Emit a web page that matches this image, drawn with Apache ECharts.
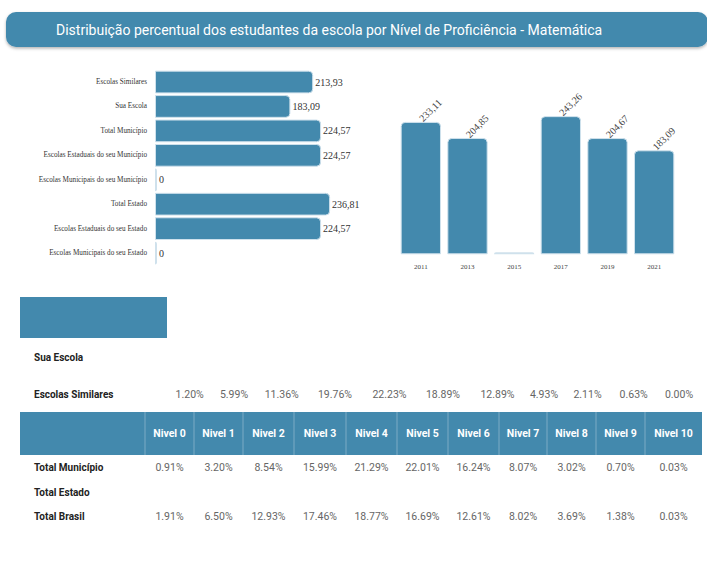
<!DOCTYPE html>
<html>
<head>
<meta charset="utf-8">
<script src="https://cdn.jsdelivr.net/npm/echarts@6/dist/echarts.min.js"></script>
<style>
html,body{margin:0;padding:0;background:#fff;}
#chart{width:707px;height:579px;}
</style>
</head>
<body>
<div id="chart"></div>
<script>
// ---------- DATA ----------
const titleText = 'Distribuição percentual dos estudantes da escola por Nível de Proficiência - Matemática';
const hbarCategories = ['Escolas Similares','Sua Escola','Total Município','Escolas Estaduais do seu Município','Escolas Municipais do seu Município','Total Estado','Escolas Estaduais do seu Estado','Escolas Municipais do seu Estado'];
const hbarValues = [213.93, 183.09, 224.57, 224.57, 0, 236.81, 224.57, 0];
const years = ['2011','2013','2015','2017','2019','2021'];
const yearValues = [233.11, 204.85, 0, 243.26, 204.67, 183.09];
const levels = ['Nivel 0','Nivel 1','Nivel 2','Nivel 3','Nivel 4','Nivel 5','Nivel 6','Nivel 7','Nivel 8','Nivel 9','Nivel 10'];
const topRows = ['Sua Escola','Escolas Similares'];
const suaEscolaValues = [];
const similaresValues = ['1.20%','5.99%','11.36%','19.76%','22.23%','18.89%','12.89%','4.93%','2.11%','0.63%','0.00%'];
const bottomRows = ['Total Município','Total Estado','Total Brasil'];
const municipioValues = ['0.91%','3.20%','8.54%','15.99%','21.29%','22.01%','16.24%','8.07%','3.02%','0.70%','0.03%'];
const estadoValues = [];
const brasilValues = ['1.91%','6.50%','12.93%','17.46%','18.77%','16.69%','12.61%','8.02%','3.69%','1.38%','0.03%'];

// ---------- STYLE / LAYOUT ----------
const blue = '#4389ad';
const light = '#cfe1ec';
const sans = 'Roboto, "Noto Sans", sans-serif';
const serif = '"Liberation Serif", "DejaVu Serif", serif';
const fmt = v => v === 0 ? '0' : v.toFixed(2).replace('.', ',');

const colEdges = [20,145,194,243,294,346,397,448,499,547,596,645,702];
const simCenters = [189.7,234,281.7,335,389.5,443,497.5,544,587.5,633.7,679];
const topRowY = [357, 394];
const bottomRowY = [467, 492, 516];

const graphic = [];
graphic.push({type:'rect', shape:{x:6,y:12,width:702,height:35,r:10},
  style:{fill:blue, shadowBlur:3, shadowOffsetY:1.5, shadowColor:'rgba(0,0,0,0.3)'}});
graphic.push({type:'text', x:56, y:30, style:{text:titleText, fill:'#fff', fontSize:14, fontFamily:sans, verticalAlign:'middle', align:'left'}});

// top section
graphic.push({type:'rect', shape:{x:20,y:297,width:147,height:41}, style:{fill:blue}});
const topVals = [suaEscolaValues, similaresValues];
topRows.forEach((r,i)=>{
  graphic.push({type:'text', x:34, y:topRowY[i], style:{text:r, fill:'#222', fontSize:10, fontWeight:'bold', fontFamily:sans, verticalAlign:'middle'}});
  topVals[i].forEach((v,j)=>{
    graphic.push({type:'text', x:simCenters[j], y:topRowY[i], style:{text:v, fill:'#666', fontSize:10.5, fontFamily:sans, align:'center', verticalAlign:'middle'}});
  });
});

// bottom table header
graphic.push({type:'rect', shape:{x:colEdges[0],y:412,width:colEdges[colEdges.length-1]-colEdges[0],height:43}, style:{fill:blue}});
for (let k=1;k<colEdges.length-1;k++){
  graphic.push({type:'line', shape:{x1:colEdges[k],y1:412,x2:colEdges[k],y2:455}, style:{stroke:'rgba(255,255,255,0.3)', lineWidth:1}});
}
levels.forEach((l,j)=>{
  graphic.push({type:'text', x:(colEdges[j+1]+colEdges[j+2])/2, y:433.5, style:{text:l, fill:'#fff', fontSize:10.5, fontWeight:'bold', fontFamily:sans, align:'center', verticalAlign:'middle'}});
});
const botVals = [municipioValues, estadoValues, brasilValues];
bottomRows.forEach((r,i)=>{
  graphic.push({type:'text', x:34, y:bottomRowY[i], style:{text:r, fill:'#222', fontSize:10, fontWeight:'bold', fontFamily:sans, verticalAlign:'middle'}});
  botVals[i].forEach((v,j)=>{
    graphic.push({type:'text', x:(colEdges[j+1]+colEdges[j+2])/2, y:bottomRowY[i], style:{text:v, fill:'#666', fontSize:10.5, fontFamily:sans, align:'center', verticalAlign:'middle'}});
  });
});

const chart = echarts.init(document.getElementById('chart'), null, {renderer:'svg'});
chart.setOption({
  animation:false,
  backgroundColor:'#fff',
  grid:[
    {left:155, top:69.8, width:221.85, height:195.5},
    {left:397.5, top:83.9, width:280, height:170.4}
  ],
  xAxis:[
    {gridIndex:0, type:'value', min:0, max:300, show:false},
    {gridIndex:1, type:'category', data:years, axisLine:{show:false}, axisTick:{show:false},
      axisLabel:{fontFamily:serif, fontSize:7, color:'#444', margin:9}}
  ],
  yAxis:[
    {gridIndex:0, type:'category', inverse:true, data:hbarCategories, axisLine:{show:false}, axisTick:{show:false},
      axisLabel:{fontFamily:serif, fontSize:7.2, color:'#333', margin:8}},
    {gridIndex:1, type:'value', min:0, max:300, show:false}
  ],
  series:[
    {type:'bar', xAxisIndex:0, yAxisIndex:0, barCategoryGap:'7%', barMinHeight:2,
      data:hbarValues.map(v=>({value:v, itemStyle: v===0 ? {color:light, borderWidth:0} : undefined})),
      itemStyle:{color:blue, borderColor:light, borderWidth:1, borderRadius:[0,4,4,0]},
      label:{show:true, position:'right', distance:2, fontFamily:serif, fontSize:10, color:'#333', formatter:p=>fmt(p.value)}},
    {type:'bar', xAxisIndex:1, yAxisIndex:1, barCategoryGap:'13.6%', barMinHeight:2,
      data:yearValues.map(v=>({value:v, itemStyle: v===0 ? {color:light, borderWidth:0} : undefined, label: v===0 ? {show:false} : undefined})),
      itemStyle:{color:blue, borderColor:light, borderWidth:1, borderRadius:[4,4,0,0]},
      label:{show:true, position:'top', distance:2, rotate:45, align:'left', verticalAlign:'middle', fontFamily:serif, fontSize:10, color:'#444', formatter:p=>fmt(p.value)}}
  ],
  graphic: graphic
});
</script>
</body>
</html>
